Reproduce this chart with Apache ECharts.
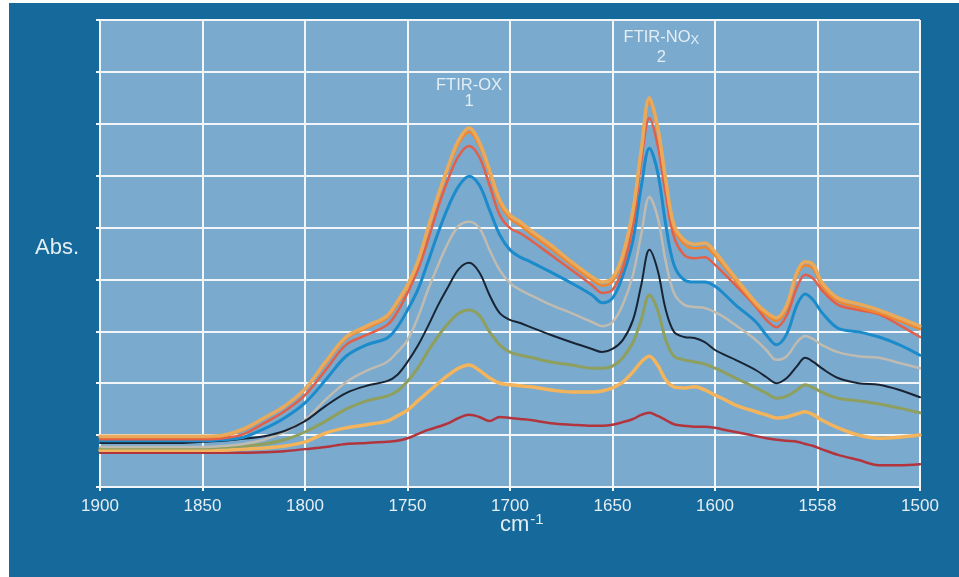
<!DOCTYPE html>
<html><head><meta charset="utf-8">
<script src="https://cdn.jsdelivr.net/npm/echarts@6/dist/echarts.min.js"></script>
<style>html,body{margin:0;padding:0;background:#fff}#c{width:959px;height:577px}</style>
</head><body><div id="c"></div>
<script>
const wavenumbers = [1900,1880,1860,1850,1840,1830,1820,1810,1800,1790,1780,1770,1760,1755,1750,1745,1740,1735,1730,1725,1720,1715,1710,1705,1700,1695,1690,1680,1670,1660,1655,1650,1645,1640,1636,1632,1628,1624,1620,1615,1610,1605,1600,1595,1590,1580,1575,1570,1565,1560,1556,1552,1548,1540,1530,1520,1510,1500];
const xTicks = [1900,1850,1800,1750,1700,1650,1600,1558,1500];
const tanSeries = [0.98,0.98,0.98,0.98,1.00,1.12,1.33,1.56,1.89,2.41,2.89,3.10,3.30,3.57,3.89,4.34,4.99,5.63,6.20,6.69,6.92,6.65,6.11,5.53,5.24,5.11,4.95,4.66,4.34,4.05,3.95,4.03,4.47,5.34,6.49,7.50,6.94,5.92,5.05,4.76,4.68,4.70,4.53,4.28,4.03,3.55,3.37,3.26,3.51,4.14,4.34,4.28,3.95,3.64,3.53,3.41,3.26,3.10];
const orangeSeries = [0.96,0.96,0.96,0.96,0.98,1.10,1.32,1.55,1.88,2.38,2.86,3.06,3.26,3.52,3.85,4.30,4.95,5.58,6.15,6.62,6.84,6.58,6.04,5.46,5.17,5.04,4.88,4.59,4.28,3.99,3.88,3.96,4.41,5.28,6.44,7.42,6.86,5.85,4.98,4.68,4.60,4.62,4.46,4.22,3.97,3.50,3.32,3.20,3.45,4.08,4.27,4.20,3.88,3.58,3.46,3.35,3.20,3.04];
const redSeries = [0.92,0.92,0.92,0.92,0.94,1.02,1.23,1.46,1.77,2.25,2.74,2.93,3.12,3.37,3.74,4.18,4.76,5.40,5.95,6.38,6.57,6.36,5.82,5.24,4.99,4.89,4.76,4.47,4.18,3.89,3.74,3.80,4.22,5.05,6.26,7.11,6.59,5.63,4.82,4.47,4.41,4.43,4.28,4.09,3.89,3.47,3.22,3.08,3.31,3.85,4.09,4.01,3.80,3.51,3.41,3.33,3.12,2.89];
const blueSeries = [0.89,0.89,0.89,0.89,0.91,0.96,1.12,1.33,1.62,2.06,2.52,2.74,2.87,3.08,3.41,3.80,4.34,4.91,5.41,5.80,5.99,5.82,5.34,4.86,4.57,4.43,4.34,4.14,3.93,3.70,3.55,3.64,4.07,4.76,5.78,6.53,6.07,5.05,4.28,3.99,3.95,3.95,3.87,3.70,3.51,3.18,2.93,2.74,2.95,3.51,3.72,3.60,3.37,3.06,2.99,2.89,2.74,2.54];
const graySeries = [0.77,0.77,0.77,0.77,0.79,0.83,0.91,1.06,1.29,1.68,2.02,2.24,2.41,2.60,2.83,3.26,3.80,4.28,4.72,5.03,5.11,4.99,4.57,4.18,3.93,3.80,3.70,3.51,3.35,3.18,3.10,3.18,3.51,4.09,4.86,5.59,5.20,4.34,3.74,3.51,3.47,3.45,3.37,3.26,3.12,2.83,2.64,2.45,2.52,2.79,2.91,2.85,2.74,2.60,2.52,2.49,2.39,2.29];
const blackSeries = [0.85,0.85,0.85,0.87,0.89,0.93,0.98,1.08,1.27,1.56,1.81,1.95,2.04,2.16,2.41,2.72,3.10,3.51,3.87,4.20,4.32,4.14,3.70,3.35,3.22,3.16,3.08,2.93,2.79,2.66,2.60,2.66,2.83,3.22,3.89,4.57,4.18,3.41,2.99,2.89,2.87,2.79,2.64,2.54,2.45,2.25,2.12,2.00,2.10,2.33,2.49,2.41,2.29,2.10,2.00,1.97,1.87,1.73];
const oliveSeries = [0.75,0.75,0.75,0.75,0.77,0.79,0.83,0.91,1.06,1.27,1.50,1.66,1.75,1.85,2.04,2.29,2.62,2.91,3.16,3.35,3.41,3.31,2.99,2.74,2.60,2.54,2.50,2.41,2.35,2.29,2.29,2.33,2.49,2.79,3.22,3.70,3.41,2.83,2.52,2.45,2.41,2.37,2.29,2.20,2.10,1.91,1.81,1.71,1.75,1.87,1.97,1.91,1.83,1.71,1.66,1.60,1.52,1.43];
const lightOrangeSeries = [0.71,0.71,0.71,0.71,0.71,0.73,0.75,0.79,0.87,1.04,1.14,1.20,1.27,1.37,1.48,1.66,1.83,2.00,2.16,2.29,2.35,2.25,2.10,2.00,1.97,1.95,1.93,1.87,1.83,1.83,1.85,1.91,2.02,2.22,2.41,2.52,2.35,2.06,1.93,1.91,1.93,1.87,1.77,1.68,1.58,1.45,1.39,1.33,1.35,1.41,1.45,1.39,1.29,1.14,1.00,0.94,0.96,1.00];
const darkRedSeries = [0.66,0.66,0.66,0.66,0.66,0.66,0.67,0.69,0.73,0.77,0.83,0.85,0.87,0.89,0.94,1.02,1.10,1.16,1.23,1.33,1.39,1.35,1.27,1.35,1.33,1.31,1.29,1.23,1.20,1.18,1.18,1.20,1.25,1.31,1.39,1.43,1.37,1.29,1.21,1.18,1.16,1.16,1.14,1.10,1.06,0.98,0.94,0.91,0.89,0.87,0.83,0.79,0.73,0.62,0.52,0.42,0.42,0.44];

const pairs = arr => wavenumbers.map((w, i) => [w, arr[i]]);
const peak1 = wavenumbers.indexOf(1720), peak2 = wavenumbers.indexOf(1632);
const FONT = '"Liberation Sans", Arial, sans-serif';
const TXT = '#e4eef5';

function line(name, arr, color, width, z) {
  return { name, type: 'line', data: pairs(arr), smooth: 0.35, symbol: 'none', z,
    lineStyle: { color, width, cap: 'round', join: 'round' }, silent: true };
}

const chart = echarts.init(document.getElementById('c'), null, { renderer: 'canvas' });
chart.setOption({
  animation: false,
  backgroundColor: 'transparent',
  graphic: [
    { type: 'rect', left: 9, top: 3, shape: { width: 950, height: 574 }, style: { fill: '#15699b' }, z: -10 },
    { type: 'text', left: 35, top: 237, style: { text: 'Abs.', fill: TXT, font: '22px ' + FONT } },
    { type: 'text', left: 500, top: 512, style: { text: 'cm{s|-1}', fill: TXT, font: '22px ' + FONT,
        rich: { s: { fontSize: 15, fontFamily: 'Liberation Sans', fill: TXT, verticalAlign: 'top', padding: [0,0,10,1] } } } }
  ],
  grid: { left: 100, right: 39, top: 20, bottom: 90, show: true, backgroundColor: '#7aaacd', borderWidth: 0 },
  xAxis: {
    type: 'value', min: 1500, max: 1900, interval: 50, inverse: true,
    axisLine: { show: true, lineStyle: { color: '#f2f6f9', width: 2 } },
    axisTick: { show: true, length: 4, lineStyle: { color: '#f2f6f9', width: 2 } },
    splitLine: { show: true, lineStyle: { color: '#f2f6f9', width: 2 } },
    axisLabel: { color: TXT, fontSize: 17, fontFamily: FONT, margin: 11,
      formatter: v => { const i = Math.round((1900 - v) / 50); return xTicks[i] !== undefined ? String(xTicks[i]) : ''; } }
  },
  yAxis: {
    type: 'value', min: 0, max: 9, interval: 1,
    axisLine: { show: true, lineStyle: { color: '#f2f6f9', width: 2 } },
    axisTick: { show: true, length: 4, lineStyle: { color: '#f2f6f9', width: 2 } },
    splitLine: { show: true, lineStyle: { color: '#f2f6f9', width: 2 } },
    axisLabel: { show: false }
  },
  series: [
    { name: 'base', type: 'line', stack: 'band', data: pairs(oliveSeries), symbol: 'none', smooth: 0.35,
      lineStyle: { width: 0, opacity: 0 }, silent: true, z: 1 },
    { name: 'band', type: 'line', stack: 'band', data: wavenumbers.map((w, i) => [w, tanSeries[i] - oliveSeries[i]]),
      symbol: 'none', smooth: 0.35, lineStyle: { width: 0, opacity: 0 }, silent: true, z: 1,
      areaStyle: { color: 'rgba(25,95,155,0.28)' } },
    line('darkred', darkRedSeries, '#b2353d', 2.5, 3),
    line('lightorange', lightOrangeSeries, '#f3b45c', 3.5, 3),
    line('olive', oliveSeries, '#8e9f5e', 3, 3),
    line('gray', graySeries, '#c0bbb1', 2.5, 3),
    line('black', blackSeries, '#182433', 2, 4),
    line('blue', blueSeries, '#1b8bcb', 3, 4),
    line('red', redSeries, '#e2604a', 2.5, 4),
    line('orange', orangeSeries, '#f2862e', 2.5, 5),
    Object.assign(line('tan', tanSeries, '#e9aa5c', 3.5, 5), {
      markPoint: {
        symbol: 'circle', symbolSize: 1, itemStyle: { color: 'rgba(0,0,0,0)' }, silent: true,
        data: [
          { coord: [1720, tanSeries[peak1]],
            label: { show: true, position: 'top', distance: 18, formatter: 'FTIR-OX\n1', color: TXT,
              fontSize: 16.5, fontFamily: FONT, lineHeight: 16, align: 'center' } },
          { coord: [1632, tanSeries[peak2]],
            label: { show: true, position: 'top', distance: 30, offset: [12, 0], formatter: 'FTIR-NO{s|X}\n2', color: TXT,
              fontSize: 16.5, fontFamily: FONT, lineHeight: 20, align: 'center',
              rich: { s: { fontSize: 13, color: TXT, fontFamily: FONT, verticalAlign: 'bottom', lineHeight: 14, padding: [8,0,0,0] } } } }
        ]
      }
    })
  ]
});
</script></body></html>
